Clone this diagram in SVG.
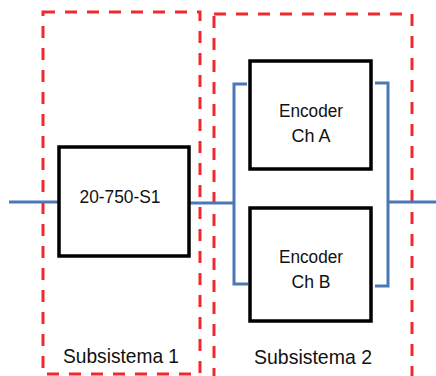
<svg xmlns="http://www.w3.org/2000/svg" width="436" height="376" viewBox="0 0 436 376">
<style>
.sub{fill:none;stroke:#ee2a2f;stroke-width:3;stroke-dasharray:12 10}
.box{fill:#fff;stroke:#000;stroke-width:3.5}
.wire{fill:none;stroke:#4a78b4;stroke-width:3}
text{font-family:"Liberation Sans",Arial,sans-serif;fill:#111;text-anchor:middle}
.t{font-size:18px}
.s{font-size:21px}
</style>
<rect width="436" height="376" fill="#fff"/>
<g id="subsistema1">
<rect class="sub" x="43" y="12" width="157" height="362"/>
<text class="s" x="121" y="363" textLength="116" lengthAdjust="spacingAndGlyphs">Subsistema 1</text>
</g>
<g id="subsistema2">
<rect class="sub" x="214" y="14" width="198" height="370"/>
<text class="s" x="313" y="364" textLength="118" lengthAdjust="spacingAndGlyphs">Subsistema 2</text>
</g>
<g id="connectors">
<path class="wire" d="M9 202H60"/>
<path class="wire" d="M189 203H234M247 84H234V284H248"/>
<path class="wire" d="M375 83H388V286H375M388 202H436"/>
</g>
<g id="s1">
<rect class="box" x="59" y="147" width="130" height="109"/>
<text class="t" x="120" y="203" font-size="19" textLength="81" lengthAdjust="spacingAndGlyphs">20-750-S1</text>
</g>
<g id="chA">
<rect class="box" x="250" y="61" width="121" height="108"/>
<text class="t" x="311" y="117" textLength="64" lengthAdjust="spacingAndGlyphs">Encoder</text>
<text class="t" x="311" y="142" textLength="39" lengthAdjust="spacingAndGlyphs">Ch A</text>
</g>
<g id="chB">
<rect class="box" x="250" y="208" width="121" height="113"/>
<text class="t" x="311" y="263" textLength="64" lengthAdjust="spacingAndGlyphs">Encoder</text>
<text class="t" x="311" y="288" textLength="39" lengthAdjust="spacingAndGlyphs">Ch B</text>
</g>
</svg>
